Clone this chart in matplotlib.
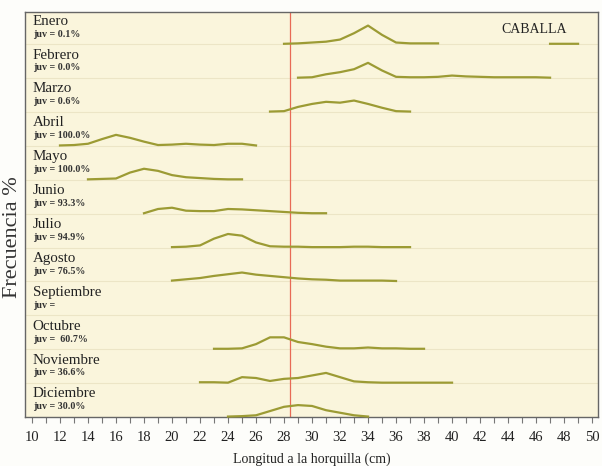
import numpy as np
import matplotlib.pyplot as plt

plt.rcParams['font.family'] = ['Liberation Serif', 'DejaVu Serif']

meses = ['Enero', 'Febrero', 'Marzo', 'Abril', 'Mayo', 'Junio', 'Julio',
         'Agosto', 'Septiembre', 'Octubre', 'Noviembre', 'Diciembre']
juv = ['juv = 0.1%', 'juv = 0.0%', 'juv = 0.6%', 'juv = 100.0%', 'juv = 100.0%',
       'juv = 93.3%', 'juv = 94.9%', 'juv = 76.5%', 'juv =', 'juv =  60.7%',
       'juv = 36.6%', 'juv = 30.0%']

# first length class (cm) of each month
inicio = [28, 29, 27, 12, 14, 18, 20, 20, None, 23, 22, 24]

# frequency (%) per 1 cm length class
nan = np.nan
enero = [0.5, 1, 2, 3, 5.5, 13, 22, 11, 2, 1, 1, 1,
         nan, nan, nan, nan, nan, nan, nan, 0.5, 0.5, 0.5]
febrero = [0.5, 1, 4.5, 7, 10.5, 18, 9, 1.5, 1, 1, 1.5, 3, 2, 1.5, 1, 1, 1, 1, 0.5]
marzo = [0.5, 1, 6, 9.5, 12, 11, 13.5, 9.5, 5, 1, 0.5]
abril = [0.5, 1, 2.5, 8, 13, 9.5, 5, 1, 1.5, 2.5, 1.5, 1, 2.5, 2.5, 0.5]
mayo = [0.5, 1, 1.5, 8.5, 13, 10.5, 5.5, 3, 2, 1, 0.5, 0.5]
junio = [0.5, 5.5, 7, 3.5, 3, 3, 5.5, 5, 4, 3, 2, 1, 0.5, 0.5]
julio = [0.5, 1, 2.5, 10.5, 16, 14, 6, 1.5, 1, 1, 0.5, 0.5, 0.5, 1, 1, 0.5, 0.5, 0.5]
agosto = [1, 2.5, 4, 6.5, 8.5, 10.5, 8, 6.5, 5, 3.5, 2.5, 2, 1, 1, 1, 1, 0.5]
septiembre = []
octubre = [0.5, 0.5, 1, 6, 14, 14, 8.5, 6, 3, 1, 1, 2, 1, 1, 0.5, 0.5]
noviembre = [1, 1, 0.5, 7, 6, 2.5, 5, 6, 9, 12, 7, 2, 1, 0.5, 0.5, 0.5, 0.5, 0.5, 0.5]
diciembre = [0.5, 1, 2, 7, 12, 14, 13, 8, 5, 2, 0.5]

frecuencias = [enero, febrero, marzo, abril, mayo, junio, julio,
               agosto, septiembre, octubre, noviembre, diciembre]

talla_minima = 28.4
escala = 40.0  # % of frequency per row height

fig = plt.figure(figsize=(6.02, 4.66), dpi=100, facecolor='#fdfdfa')
ax = fig.add_axes([0.0415, 0.1052, 0.952, 0.869])
ax.set_facecolor('#faf5dc')

n = len(meses)
for i, (mes, j, x0, f) in enumerate(zip(meses, juv, inicio, frecuencias)):
    base = n - 1 - i
    ax.axhline(base, color='#ece5c6', lw=0.8, zorder=1)
    if f:
        x = x0 + np.arange(len(f))
        y = base + np.array(f, dtype=float) / escala
        ax.plot(x, y, color='#9c9b34', lw=1.6, zorder=3, clip_on=False,
                solid_joinstyle='round')
    ax.text(10.05, base + 0.68, mes, fontsize=10.8, color='#222222', va='center')
    ax.text(10.1, base + 0.30, j, fontsize=7.2, fontweight='bold',
            color='#333333', va='center')

ax.axvline(talla_minima, color='#e86a55', lw=0.9, zorder=2)
ax.text(0.888, 0.958, 'CABALLA', transform=ax.transAxes, fontsize=10,
        color='#222222', ha='center', va='center')

ax.set_xlim(9.5, 50.43)
ax.set_ylim(0, 11.95)
ax.set_xticks(np.arange(10, 51, 2))
ax.set_xticks(np.arange(10, 51, 1), minor=True)
ax.set_yticks([])
ax.tick_params(axis='x', which='both', length=4, width=0.8, color='#777777',
               labelsize=10.5, labelcolor='#222222', pad=6)
for s in ax.spines.values():
    s.set_color('#666666')
    s.set_linewidth(1.0)

ax.set_xlabel('Longitud a la horquilla (cm)', fontsize=10, color='#222222',
              labelpad=6)
fig.text(0.02, 0.492, 'Frecuencia %', rotation=90, fontsize=16,
         color='#333333', ha='center', va='center')

fig.savefig('out.png', dpi=100, facecolor=fig.get_facecolor())
